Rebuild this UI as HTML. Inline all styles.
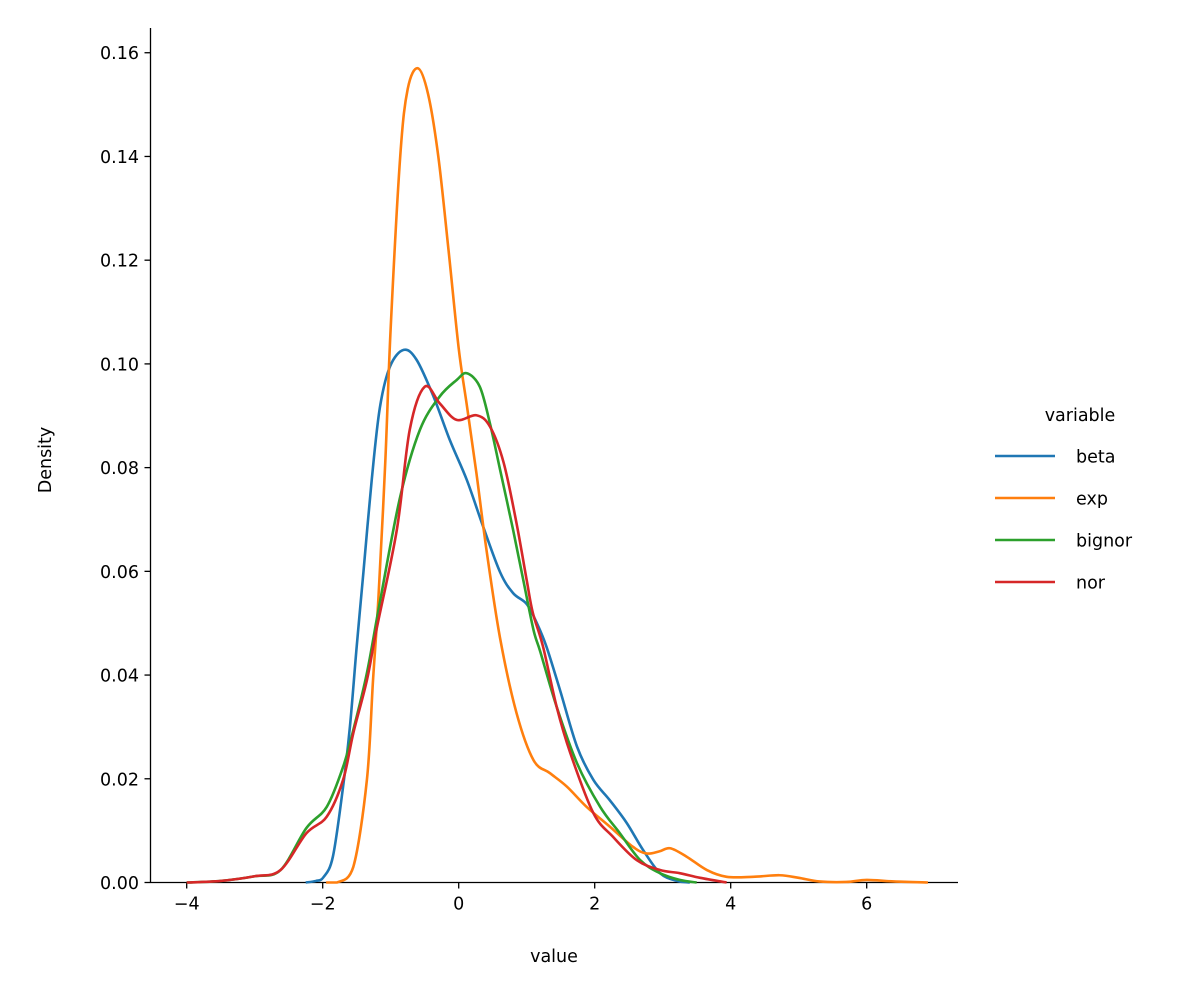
<!DOCTYPE html>
<html><head><meta charset="utf-8"><style>
body{margin:0;background:#fff}
svg text{font-family:"DejaVu Sans","Liberation Sans",sans-serif;fill:#000}
</style></head><body>
<svg id="chart" width="1189" height="1000" viewBox="0 0 1189 1000" xmlns="http://www.w3.org/2000/svg">
<g id="axes"></g>
<g id="series"></g>
<g id="legend"></g>
</svg>
<script>
const xTicks=[-4,-2,0,2,4,6];
const yTicks=[0,0.02,0.04,0.06,0.08,0.10,0.12,0.14,0.16];
const yTickLabels=["0.00","0.02","0.04","0.06","0.08","0.10","0.12","0.14","0.16"];
const seriesNames=["beta","exp","bignor","nor"];
const seriesColors=["#1f77b4","#ff7f0e","#2ca02c","#d62728"];
const betaX=[-2.25,-2.1,-1.99,-1.85,-1.7,-1.6,-1.5,-1.4,-1.28,-1.16,-1.01,-0.81,-0.62,-0.37,-0.13,0.12,0.36,0.61,0.8,1.0,1.15,1.29,1.49,1.74,1.98,2.22,2.47,2.71,2.96,3.21,3.4];
const betaY=[0,0.0003,0.001,0.005,0.0185,0.030,0.0455,0.060,0.0775,0.0915,0.0995,0.1027,0.1008,0.0937,0.0853,0.0776,0.0686,0.0598,0.0558,0.0537,0.050,0.0455,0.0371,0.0262,0.0198,0.0159,0.0115,0.0063,0.0018,0.0003,0];
const expX=[-1.95,-1.79,-1.55,-1.35,-1.26,-1.18,-1.08,-1.0,-0.86,-0.75,-0.6,-0.45,-0.3,-0.15,0.0,0.12,0.26,0.41,0.61,0.85,1.1,1.34,1.59,1.88,2.22,2.56,2.76,2.95,3.11,3.35,3.65,3.94,4.33,4.72,5.0,5.3,5.7,6.0,6.4,6.9];
const expY=[0,0,0.003,0.0198,0.039,0.055,0.081,0.107,0.140,0.153,0.157,0.152,0.140,0.122,0.103,0.092,0.079,0.064,0.047,0.0327,0.0236,0.0211,0.0185,0.0146,0.0108,0.0069,0.0056,0.006,0.0066,0.005,0.0024,0.0011,0.0011,0.0014,0.0009,0.0002,0.0001,0.0005,0.0002,0];
const bignorX=[-4.0,-3.5,-3.0,-2.62,-2.24,-1.94,-1.7,-1.55,-1.35,-1.16,-0.86,-0.57,-0.28,-0.03,0.12,0.31,0.46,0.61,0.8,0.95,1.1,1.2,1.44,1.74,2.08,2.37,2.67,2.96,3.25,3.5];
const bignorY=[0,0.0003,0.0012,0.0024,0.0105,0.0146,0.0223,0.0294,0.0404,0.054,0.0744,0.0873,0.0937,0.0969,0.0982,0.0956,0.0885,0.0795,0.068,0.0583,0.0487,0.0445,0.0339,0.023,0.0146,0.0095,0.0043,0.0018,0.0005,0];
const norX=[-4.0,-3.5,-3.0,-2.62,-2.24,-1.94,-1.7,-1.55,-1.35,-1.21,-0.91,-0.72,-0.5,-0.28,-0.03,0.26,0.46,0.66,0.85,1.0,1.09,1.24,1.44,1.64,1.98,2.27,2.62,2.96,3.25,3.55,3.94];
const norY=[0,0.0003,0.0012,0.0024,0.0095,0.0127,0.0198,0.0288,0.039,0.0487,0.068,0.0873,0.0956,0.0924,0.0892,0.0901,0.0879,0.081,0.0693,0.0583,0.052,0.0455,0.0339,0.025,0.0134,0.0088,0.0043,0.0024,0.0018,0.0009,0];
const allX=[betaX,expX,bignorX,norX], allY=[betaY,expY,bignorY,norY];

const NS="http://www.w3.org/2000/svg";
const x0=458.7, xs=68, y0=882.5, ys=5186;
const X=v=>x0+v*xs, Y=v=>y0-v*ys;
function mk(tag,attrs,parent){const e=document.createElementNS(NS,tag);for(const k in attrs)e.setAttribute(k,attrs[k]);parent.appendChild(e);return e;}
const axes=document.getElementById('axes');
let e=mk('line',{x1:150.5,y1:28,x2:150.5,y2:y0,stroke:'#000','stroke-width':1.3},axes);


e=mk('line',{x1:150.5,y1:y0,x2:958,y2:y0,stroke:'#000','stroke-width':1.3},axes);


xTicks.forEach(t=>{
  const l=mk('line',{x1:X(t),y1:y0,x2:X(t),y2:y0+6,stroke:'#000','stroke-width':1.3},axes);
  
  
  const tx=mk('text',{x:X(t),y:y0+27,'text-anchor':'middle','font-size':17.5},axes);
  tx.textContent=(t<0?'\u2212'+(-t):String(t));
  
  
});
yTicks.forEach((t,i)=>{
  const l=mk('line',{x1:144.5,y1:Y(t),x2:150.5,y2:Y(t),stroke:'#000','stroke-width':1.3},axes);
  
  
  const tx=mk('text',{x:139,y:Y(t)+6.5,'text-anchor':'end','font-size':17.5},axes);
  tx.textContent=yTickLabels[i];
  
  
});
e=mk('text',{x:554,y:962,'text-anchor':'middle','font-size':17.5},axes);
e.textContent='value';


e=mk('text',{x:51,y:460,'text-anchor':'middle','font-size':17.5,transform:'rotate(-90 51 460)'},axes);
e.textContent='Density';



function path(xa,ya){
  const p=xa.map((v,i)=>[X(v),Y(ya[i])]);
  let d='M'+p[0][0].toFixed(2)+','+p[0][1].toFixed(2);
  for(let i=0;i<p.length-1;i++){
    const a=p[Math.max(0,i-1)],b=p[i],c=p[i+1],n=p[Math.min(p.length-1,i+2)];
    let c1y=b[1]+(c[1]-a[1])/6, c2y=c[1]-(n[1]-b[1])/6;
    c1y=Math.min(c1y,y0); c2y=Math.min(c2y,y0);
    d+=' C'+(b[0]+(c[0]-a[0])/6).toFixed(2)+','+c1y.toFixed(2)+' '+(c[0]-(n[0]-b[0])/6).toFixed(2)+','+c2y.toFixed(2)+' '+c[0].toFixed(2)+','+c[1].toFixed(2);
  }
  return d;
}
const sg=document.getElementById('series');
[0,1,2,3].forEach(i=>{
  const pe=mk('path',{d:path(allX[i],allY[i]),fill:'none',stroke:seriesColors[i],'stroke-width':2.6,'stroke-linejoin':'round'},sg);
  
  
});
const lg=document.getElementById('legend');
e=mk('text',{x:1080,y:421,'text-anchor':'middle','font-size':17.5},lg);
e.textContent='variable';


seriesNames.forEach((n,i)=>{
  const y=456+i*42;
  const g=mk('g',{},lg);
  
  
  mk('line',{x1:995,y1:y,x2:1055,y2:y,stroke:seriesColors[i],'stroke-width':2.6},g);
  const t=mk('text',{x:1076,y:y+6.5,'font-size':17.5},g);
  t.textContent=n;
});
</script>
</body></html>
